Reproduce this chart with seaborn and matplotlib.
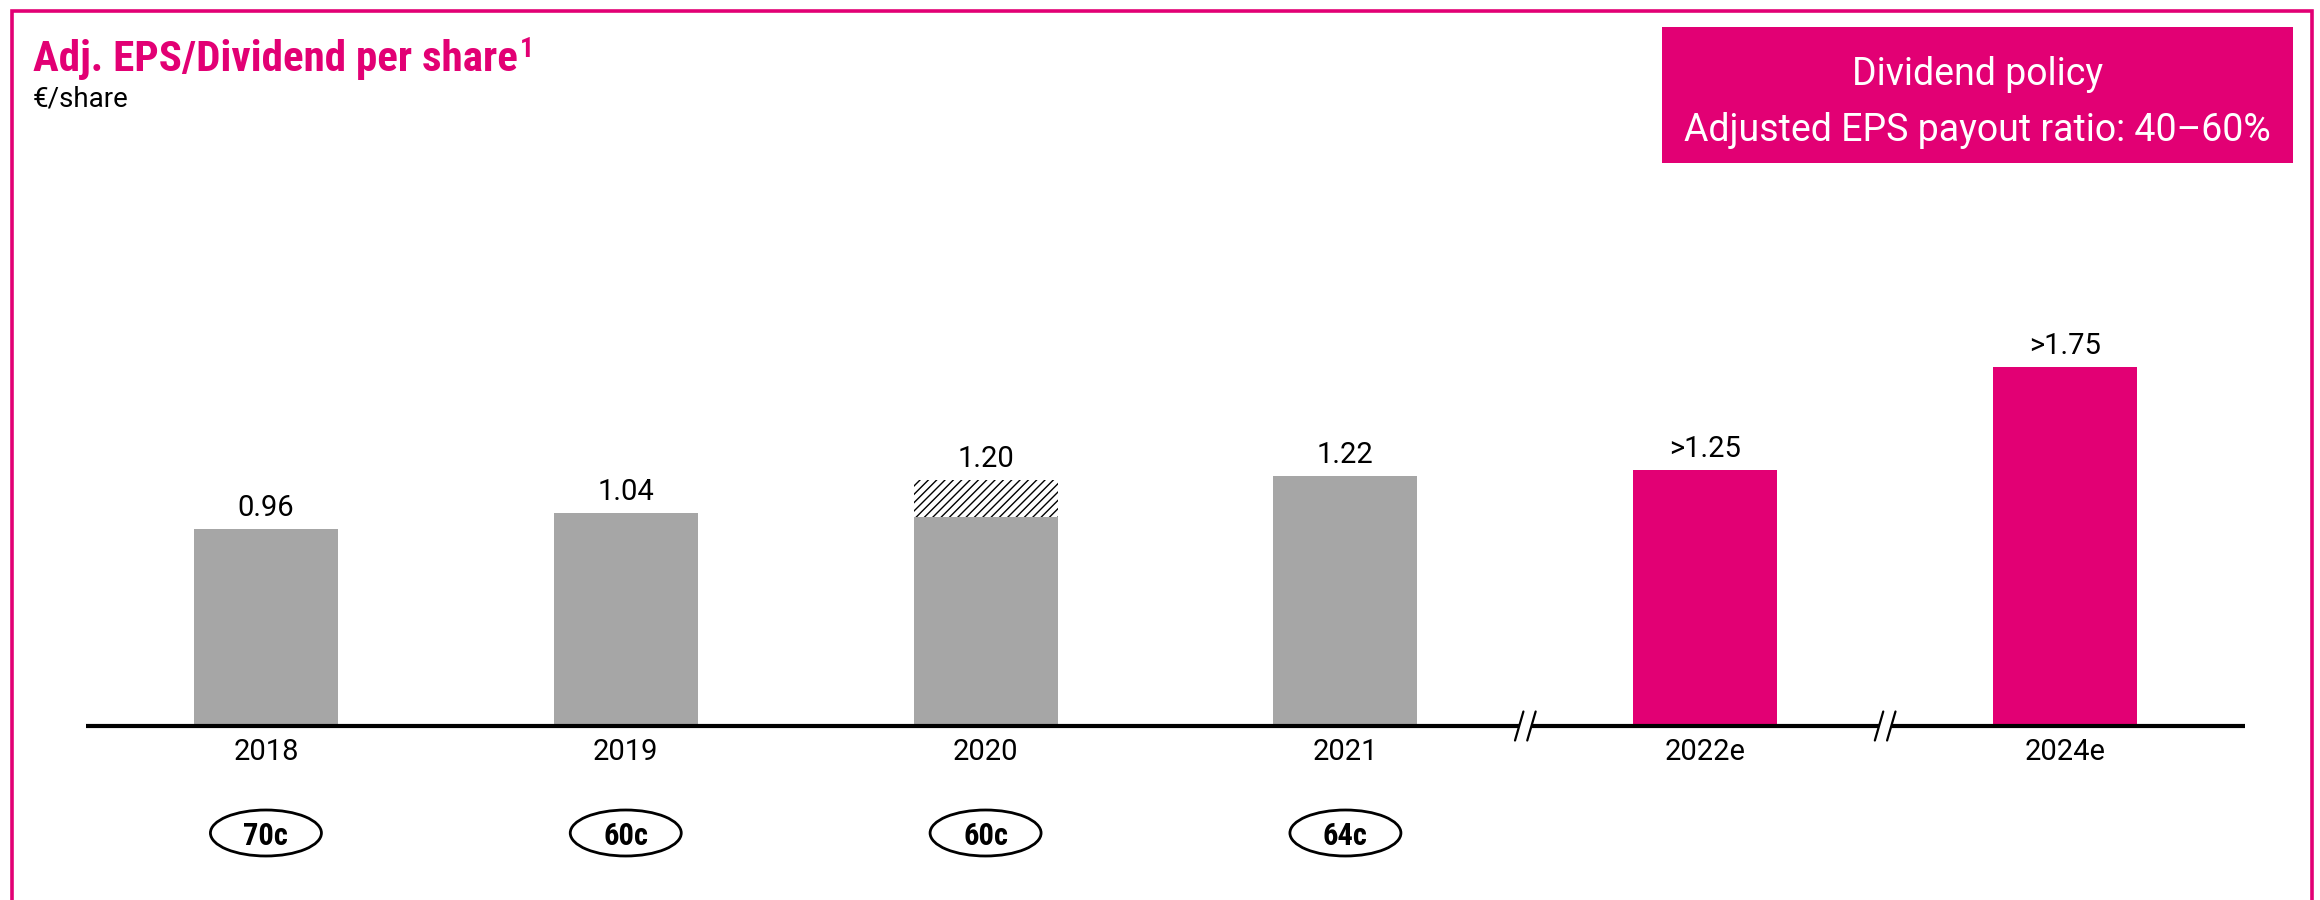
import matplotlib
matplotlib.use("Agg")
import matplotlib.pyplot as plt
from matplotlib import font_manager
from matplotlib.patches import Ellipse, Rectangle
from matplotlib.lines import Line2D
import seaborn as sns
import pandas as pd

# ---- data -------------------------------------------------------------
years = ["2018", "2019", "2020", "2021", "2022e", "2024e"]
eps = [0.96, 1.04, 1.20, 1.22, 1.25, 1.75]
eps_labels = ["0.96", "1.04", "1.20", "1.22", ">1.25", ">1.75"]
eps_2020_underlying = 1.02          # solid part of the 2020 bar
dividends = ["70c", "60c", "60c", "64c"]   # dividend per share, 2018-2021
kind = ["actual", "actual", "actual", "actual", "target", "target"]

title = "Adj. EPS/Dividend per share"
unit = "€/share"
policy_lines = ["Dividend policy", "Adjusted EPS payout ratio: 40–60%"]

MAGENTA = "#E20074"
GREY = "#A6A6A6"

# ---- fonts ------------------------------------------------------------
sns.set_theme(style="white")
available = {f.name for f in font_manager.fontManager.ttflist}
def pick(*names):
    return [n for n in names if n in available] + ["DejaVu Sans"]

BODY = pick("Roboto", "Open Sans", "Lato")
NARROW = pick("Liberation Sans Narrow", "Roboto Condensed", "Liberation Sans")
plt.rcParams["font.family"] = BODY
plt.rcParams["hatch.linewidth"] = 1.0
plt.rcParams["hatch.color"] = "black"

W, H = 2320, 900
fig = plt.figure(figsize=(W / 100, H / 100), dpi=100)
fig.patch.set_facecolor("white")

# plot area: baseline 726 px from top, 205 px per €
px_per_unit = 205
ymax = 2.0
ax = fig.add_axes([86 / W, (H - 726) / H, (2245 - 86) / W, ymax * px_per_unit / H])
ax.set_facecolor("none")

df = pd.DataFrame({"year": years, "eps": eps, "kind": kind})
palette = {y: (MAGENTA if k == "target" else GREY) for y, k in zip(years, kind)}
sns.barplot(data=df, x="year", y="eps", hue="year", palette=palette,
            order=years, width=0.4, saturation=1, legend=False, ax=ax,
            linewidth=0)

# 2020: hatched top part on a solid grey base
idx2020 = years.index("2020")
bars = ax.patches[:len(years)]
bars[idx2020].set_facecolor("white")
bars[idx2020].set_edgecolor("black")
bars[idx2020].set_linewidth(0)
bars[idx2020].set_hatch("////")
sns.barplot(x=["2020"], y=[eps_2020_underlying], order=years, color=GREY,
            width=0.4, saturation=1, linewidth=0, ax=ax)

ax.set_xlim(-0.5, len(years) - 0.5)
ax.set_ylim(0, ymax)
ax.set_xlabel("")
ax.set_ylabel("")
ax.set_yticks([])
for s in ax.spines.values():
    s.set_visible(False)
ax.tick_params(axis="x", length=0, pad=9, labelsize=21, labelcolor="black")

# value labels above bars
for i, (v, lab) in enumerate(zip(eps, eps_labels)):
    ax.annotate(lab, (i, v), xytext=(0, 9.5), textcoords="offset points",
                ha="center", va="baseline", fontsize=21, color="black")

# baseline with break marks between 2021|2022e and 2022e|2024e
breaks = [3.5, 4.5]
gap = 0.017
seg_x = [-0.5]
for b in breaks:
    seg_x += [b - gap, b + gap]
seg_x.append(len(years) - 0.5)
for x0, x1 in zip(seg_x[0::2], seg_x[1::2]):
    ax.plot([x0, x1], [0, 0], color="black", lw=3, solid_capstyle="butt",
            clip_on=False)
dx, dy = 0.0117, 0.0707
for b in breaks:
    for c in (b - gap, b + gap):
        ax.plot([c - dx, c + dx], [-dy, dy], color="black", lw=1.6,
                clip_on=False)

# dividend ellipses below the year labels
ell_y = -(833 - 726) / px_per_unit
for i, d in enumerate(dividends):
    ax.add_patch(Ellipse((i, ell_y), 111 / 359.8, 46 / px_per_unit,
                         facecolor="none", edgecolor="black", lw=2,
                         clip_on=False))
    ax.text(i, ell_y, d, ha="center", va="center_baseline", fontsize=22,
            fontweight="bold", family=NARROW, color="black")

# ---- headline -----------------------------------------------------------
t = fig.text(33 / W, 1 - 71 / H, title, ha="left", va="baseline",
             fontsize=31, fontweight="bold", family=NARROW, color=MAGENTA)
fig.canvas.draw()
bb = t.get_window_extent()
fig.text((bb.x1 + 2) / W, 1 - 57 / H, "1", ha="left", va="baseline",
         fontsize=20, fontweight="bold", family=NARROW, color=MAGENTA)
fig.text(33 / W, 1 - 106 / H, unit, ha="left", va="baseline", fontsize=20,
         color="black")

# dividend policy box
bx0, bx1, by0, by1 = 1662, 2293, 27, 163
fig.add_artist(Rectangle((bx0 / W, 1 - by1 / H), (bx1 - bx0) / W,
                         (by1 - by0) / H, transform=fig.transFigure,
                         facecolor=MAGENTA, edgecolor="none"))
for line, base in zip(policy_lines, [85, 141]):
    fig.text((bx0 + bx1) / 2 / W, 1 - base / H, line, ha="center",
             va="baseline", fontsize=27, fontweight="normal", color="white")

# page frame (open at the bottom)
lx, rx, ty = 11.7 / W, 2312 / W, 1 - 11 / H
fig.add_artist(Line2D([lx, lx, rx, rx], [0, ty, ty, 0],
                      transform=fig.transFigure, color=MAGENTA, lw=2.6,
                      solid_joinstyle="miter"))

fig.savefig("out.png", dpi=100, facecolor="white")
